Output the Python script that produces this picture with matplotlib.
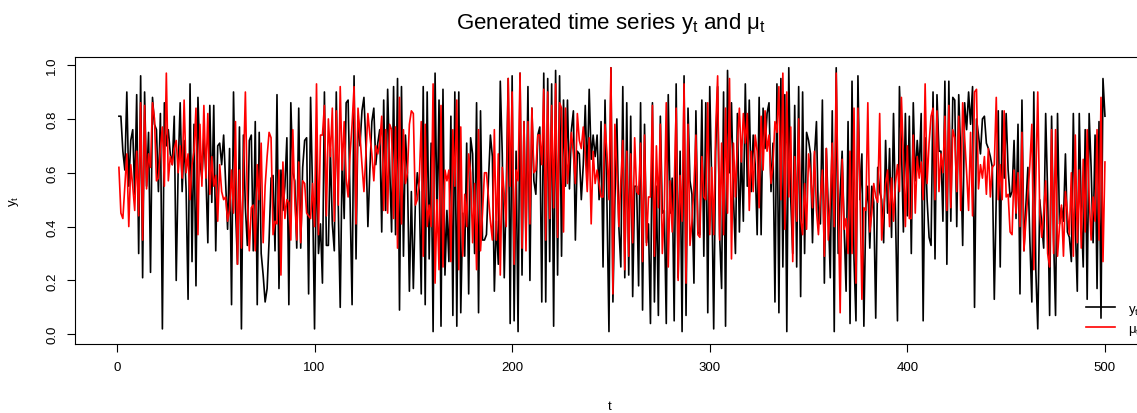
import matplotlib
matplotlib.use("Agg")
import matplotlib.pyplot as plt
import numpy as np

plt.rcParams['font.family'] = ['Liberation Sans', 'DejaVu Sans']
plt.rcParams['mathtext.fontset'] = 'custom'
plt.rcParams['mathtext.rm'] = 'Liberation Sans'
plt.rcParams['mathtext.it'] = 'Liberation Sans'

y_obs = [
    .81, .81, .68, .61, .90, .55, .72, .76, .52, .89, .30, .96, .21, .90, .55, .75, .23, .88, .78, .76,
    .53, .82, .02, .86, .70, .76, .67, .63, .81, .20, .62, .86, .53, .72, .54, .13, .93, .27, .78, .18,
    .88, .64, .58, .73, .60, .34, .85, .49,
    .85, .31, .70, .71, .63, .74, .56, .39, .69, .11, .90, .47, .26, .77, .02, .74, .47, .33, .72, .74,
    .31, .79, .11, .75, .30, .22, .12, .17, .35, .58, .59, .31, .89, .17, .61, .46, .55, .73, .11, .86,
    .60, .57, .32, .84, .32, .62, .72, .73, .15, .88, .53,
    .02, .70, .30, .41, .19, .90, .33, .33, .69, .41, .31, .90, .48, .10, .67, .43, .86, .87, .49, .11,
    .96, .28, .81, .70, .83, .88, .70, .40, .61, .79, .84, .63, .71, .76, .38, .87, .46, .91, .63, .38,
    .92, .37, .95, .09, .92, .29, .74, .60, .16, .53,
    .17, .48, .60, .53, .15, .92, .11, .90, .28, .71, .01, .97, .41, .87, .03, .91, .22, .46, .27, .81,
    .07, .90, .03, .90, .08, .45, .29, .71, .15, .73, .67, .30, .86, .08, .83, .35, .35, .37, .57, .74,
    .66, .16, .42, .26, .94, .67, .21, .53, .95, .04,
    .96, .05, .68, .01, .97, .22, .79, .35, .92, .20, .84, .57, .52, .74, .77, .12, .97, .12, .95, .27,
    .93, .03, .98, .22, .96, .29, .87, .55, .87, .54, .76, .83, .35, .68, .67, .50, .63, .85, .57, .91,
    .65, .74, .66, .74, .50, .79, .25, .87, .48, .01, .99,
    .12, .50, .80, .40, .25, .92, .21, .86, .22, .81, .14, .55, .55, .18, .86, .09, .78, .34, .41, .04,
    .86, .12, .55, .07, .81, .45, .46, .04, .89, .45, .58, .05, .93, .21, .68, .01, .96, .07, .84, .57,
    .52, .19, .83, .38, .37, .87, .29, .86, .08, .92, .56,
    .02, .68, .92, .37, .17, .90, .03, .98, .60, .86, .51, .30, .82, .38, .69, .42, .93, .55, .87, .53,
    .74, .63, .37, .88, .37, .84, .69, .82, .86, .53, .71, .12, .93, .08, .95, .25, .89, .01, .99, .50,
    .30, .85, .25, .92, .14, .90, .30, .75, .72, .67,
    .34, .66, .79, .42, .41, .87, .19, .69, .46, .21, .83, .01, .99, .30, .52, .68, .40, .16, .79, .04,
    .94, .28, .05, .96, .50, .67, .03, .47, .55, .32, .55, .49, .06, .62, .53, .50, .34, .72, .45, .69,
    .36, .82, .45, .05, .92, .70, .38, .82, .44, .81,
    .30, .86, .57, .72, .61, .82, .05, .73, .50, .36, .33, .90, .28, .89, .68, .68, .42, .94, .26, .94,
    .42, .88, .87, .40, .89, .67, .33, .86, .76, .90, .78, .92, .10, .80, .74, .67, .80, .81, .71, .69,
    .66, .62, .13, .51, .83, .25, .83, .58, .82, .61, .51,
    .53, .72, .43, .78, .15, .87, .31, .48, .62, .35, .12, .90, .24, .02, .50, .41, .32, .82, .52, .07,
    .81, .36, .07, .82, .41, .47, .42, .67, .38, .36, .27, .82, .40, .16, .82, .46, .25, .76, .13, .82,
    .62, .34, .74, .17, .79, .06, .95, .81,
]

# mean series mu_t (t = 1..500)
mu = [
    .62, .45, .43, .55, .67, .40, .63, .55, .46, .68, .44, .86, .35, .85, .54, .67, .62, .86, .80, .57,
    .58, .69, .77, .55, .97, .57, .66, .63, .69, .72, .60, .70, .58, .87, .60, .67, .50, .63, .68, .84,
    .37, .78, .55, .85, .58, .82, .52, .66,
    .55, .59, .42, .63, .53, .50, .51, .42, .46, .61, .45, .79, .26, .61, .32, .60, .90, .50, .31, .47,
    .48, .31, .63, .50, .71, .34, .55, .66, .75, .73, .37, .42, .41, .61, .22, .64, .43, .50, .49, .35,
    .76, .50, .35, .64, .34, .57, .56, .45, .44, .43, .56,
    .40, .93, .37, .74, .74, .85, .44, .80, .66, .84, .42, .83, .48, .92, .61, .79, .58, .51, .67, .78,
    .92, .41, .84, .74, .63, .53, .67, .82, .74, .67, .57, .70, .67, .71, .81, .46, .76, .45, .78, .76,
    .43, .77, .32, .88, .41, .76, .56, .60, .78, .83,
    .82, .48, .50, .57, .79, .29, .78, .40, .48, .40, .93, .19, .50, .24, .85, .25, .61, .57, .61, .27,
    .76, .55, .87, .24, .77, .29, .52, .40, .67, .60, .34, .56, .24, .76, .31, .45, .60, .60, .51, .42,
    .35, .76, .35, .67, .22, .62, .52, .40, .95, .55,
    .90, .26, .61, .57, .97, .32, .79, .31, .79, .41, .84, .60, .61, .74, .74, .63, .91, .35, .90, .43,
    .85, .47, .93, .36, .86, .84, .38, .84, .56, .67, .75, .67, .56, .82, .72, .69, .77, .67, .53, .73,
    .41, .68, .56, .61, .56, .51, .51, .78, .67, .50, .99,
    .15, .78, .61, .40, .57, .72, .24, .68, .29, .67, .34, .73, .53, .52, .71, .27, .74, .33, .51, .51,
    .85, .29, .70, .47, .78, .30, .47, .86, .25, .57, .38, .54, .84, .20, .59, .42, .93, .19, .78, .33,
    .42, .55, .74, .37, .36, .66, .51, .50, .86, .37, .62,
    .37, .76, .96, .35, .71, .37, .84, .45, .95, .28, .71, .51, .71, .84, .64, .82, .71, .82, .46, .68,
    .53, .74, .68, .47, .81, .61, .83, .68, .74, .56, .63, .79, .75, .92, .50, .97, .39, .90, .51, .77,
    .27, .66, .42, .80, .43, .37, .56, .39, .67, .60,
    .47, .68, .46, .37, .51, .61, .29, .69, .35, .49, .71, .40, .97, .50, .08, .65, .39, .43, .30, .68,
    .30, .84, .19, .84, .55, .13, .47, .46, .86, .38, .45, .56, .51, .49, .82, .35, .46, .56, .61, .40,
    .58, .42, .56, .63, .53, .88, .66, .40, .70, .43,
    .43, .74, .45, .66, .58, .64, .50, .93, .56, .71, .81, .84, .50, .83, .53, .67, .60, .81, .46, .85,
    .47, .76, .73, .53, .81, .46, .86, .73, .60, .46, .75, .44, .90, .91, .54, .63, .58, .66, .52, .69,
    .51, .62, .63, .88, .50, .63, .50, .83, .51, .52, .38,
    .37, .61, .45, .60, .40, .75, .31, .42, .52, .63, .78, .24, .57, .90, .45, .36, .45, .57, .30, .25,
    .76, .30, .76, .29, .40, .48, .29, .53, .45, .37, .60, .29, .74, .34, .61, .32, .65, .38, .76, .51,
    .35, .51, .42, .76, .35, .88, .27, .64,
]

t = np.arange(1, len(y_obs) + 1)
xticks = [0, 100, 200, 300, 400, 500]
yticks = [0.0, 0.2, 0.4, 0.6, 0.8, 1.0]
ytick_labels = ['0.0', '0.2', '0.4', '0.6', '0.8', '1.0']

fig = plt.figure(figsize=(11.37, 4.14), dpi=100)
# box runs past the right edge, like the cropped original
ax = fig.add_axes([0.066, 0.1655, 0.9405, 0.6944])

ax.plot(t, y_obs, color='black', linewidth=1.2, label=r'$\mathrm{y_t}$')
ax.plot(t, mu, color='red', linewidth=1.2, label=r'$\mu_\mathrm{t}$')

ax.set_xlim(-21.2, 519.96)
ax.set_ylim(-0.038, 1.03)
ax.set_xticks(xticks)
ax.set_yticks(yticks)
ax.set_yticklabels(ytick_labels, rotation=90, va='center')
ax.tick_params(direction='out', length=6, width=0.8, labelsize=9.5, pad=6, colors='black')
for s in ax.spines.values():
    s.set_linewidth(0.8)
    s.set_color('black')
ax.spines['right'].set_visible(False)

ax.set_xlabel('t', fontsize=9.5, labelpad=19)
ax.set_ylabel(r'$\mathrm{y_t}$', fontsize=9.5, labelpad=18)
ax.set_title(r'Generated time series $\mathrm{y_t}$ and $\mu_\mathrm{t}$', fontsize=16, pad=21)
# title centred on the box as drawn in the picture
ax.title.set_position((0.501, 1.0))

ax.legend(loc='lower right', bbox_to_anchor=(1.007, -0.015), frameon=False, fontsize=9.5,
          handlelength=2.2, handletextpad=1.0, labelspacing=0.45)

fig.savefig('out.png', dpi=100)
